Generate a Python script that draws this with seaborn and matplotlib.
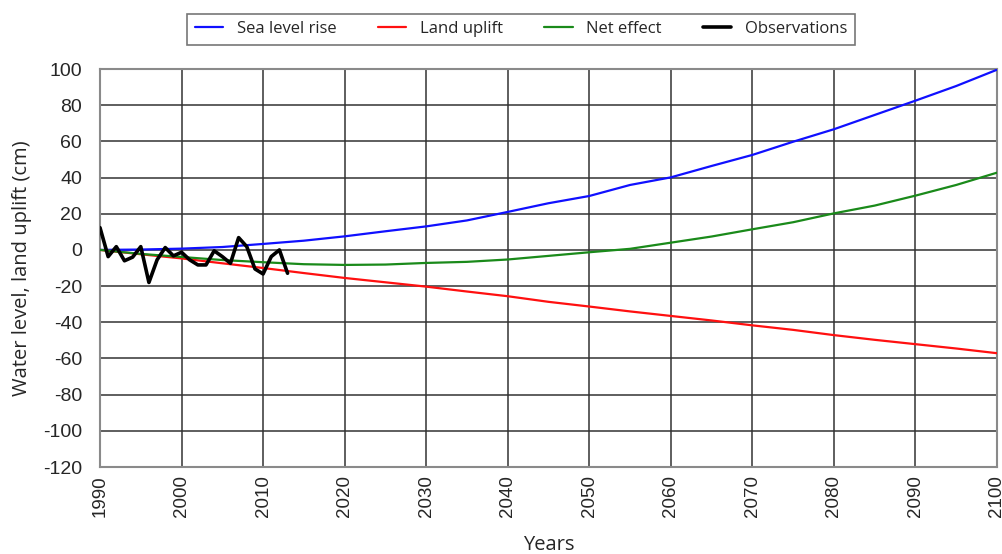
import matplotlib
matplotlib.use("Agg")
import matplotlib.pyplot as plt
import seaborn as sns
import pandas as pd

# ---- data ----
proj_years = [1990, 1995, 2000, 2005, 2010, 2015, 2020, 2025, 2030, 2035, 2040, 2045,
              2050, 2055, 2060, 2065, 2070, 2075, 2080, 2085, 2090, 2095, 2100]
sea_level = [0, 0.2, 0.7, 1.6, 3.3, 5.1, 7.5, 10.3, 13.0, 16.3, 21.0, 25.8,
             29.8, 35.9, 40.1, 46.4, 52.5, 59.8, 66.7, 74.6, 82.5, 90.6, 99.6]
land_uplift = [0, -2.4, -4.7, -7.4, -10.0, -12.8, -15.5, -17.9, -20.3, -23.0, -25.6, -28.7,
               -31.3, -34.0, -36.5, -39.0, -41.7, -44.2, -47.1, -49.7, -52.1, -54.5, -57.1]
net_effect = [0, -2.2, -3.9, -5.6, -6.8, -7.9, -8.3, -8.1, -7.2, -6.6, -5.3, -3.3,
              -1.3, 0.6, 4.0, 7.4, 11.4, 15.3, 20.2, 24.5, 30.0, 35.9, 42.7]
obs_years = list(range(1990, 2014))
observations = [12.3, -3.7, 1.8, -6.0, -4.0, 1.8, -18.0, -5.5, 1.3, -3.3, -1.3, -5.5,
                -8.3, -8.3, -0.5, -3.7, -7.4, 6.8, 1.8, -10.5, -13.3, -3.7, 0.0, -12.9]
x_ticks = list(range(1990, 2101, 10))
y_ticks = list(range(-120, 101, 20))

sns.set_style("white")
plt.rcParams['font.family'] = ['Liberation Sans', 'DejaVu Sans']

fig = plt.figure(figsize=(10.03, 5.54), dpi=100)
ax = fig.add_axes([100/1003, 1 - 467/554, 897/1003, 398/554])

proj = pd.DataFrame({"year": proj_years, "sea": sea_level,
                     "land": land_uplift, "net": net_effect})
obs = pd.DataFrame({"year": obs_years, "obs": observations})

sns.lineplot(data=proj, x="year", y="sea", ax=ax, color="#1010ff", lw=1.6,
             label="Sea level rise", zorder=3)
sns.lineplot(data=proj, x="year", y="land", ax=ax, color="#ff1010", lw=1.6,
             label="Land uplift", zorder=3)
sns.lineplot(data=proj, x="year", y="net", ax=ax, color="#1a8a1a", lw=1.6,
             label="Net effect", zorder=3)
sns.lineplot(data=obs, x="year", y="obs", ax=ax, color="black", lw=2.6,
             label="Observations", zorder=4)

ax.set_xlim(1990, 2100)
ax.set_ylim(-120, 100)
ax.set_xticks(x_ticks)
ax.set_yticks(y_ticks)
ax.set_xticklabels([str(t) for t in x_ticks], rotation=90, fontsize=13.5)
ax.set_yticklabels([str(t) for t in y_ticks], fontsize=14)
ax.grid(True, color="#333333", lw=1.1)
ax.set_axisbelow(True)
for s in ax.spines.values():
    s.set_color("#8a8a8a")
    s.set_linewidth(1.5)
ax.tick_params(axis="x", direction="out", length=4.3, width=1, color="#444444", pad=1.5)
ax.tick_params(axis="y", direction="out", length=3.8, width=1, color="#444444", pad=9)

lab_font = ["Open Sans", "DejaVu Sans"]
ax.set_xlabel("Years", fontsize=14.5, family=lab_font)
ax.xaxis.set_label_coords(0.5, (467 - 535) / 398)
ax.set_ylabel("Water level, land uplift (cm)", fontsize=14.5, family=lab_font)
ax.yaxis.set_label_coords((32 - 100) / 897, 0.5)

leg = ax.legend(loc="center", bbox_to_anchor=(521/1003, 1 - 29/554),
                bbox_transform=fig.transFigure, ncol=4, frameon=True,
                fancybox=False, edgecolor="#555555",
                handlelength=1.7, columnspacing=2.5, borderpad=0.45,
                prop={"family": lab_font, "size": 12})
leg.get_frame().set_linewidth(1.2)

fig.savefig("out.png", dpi=100)
